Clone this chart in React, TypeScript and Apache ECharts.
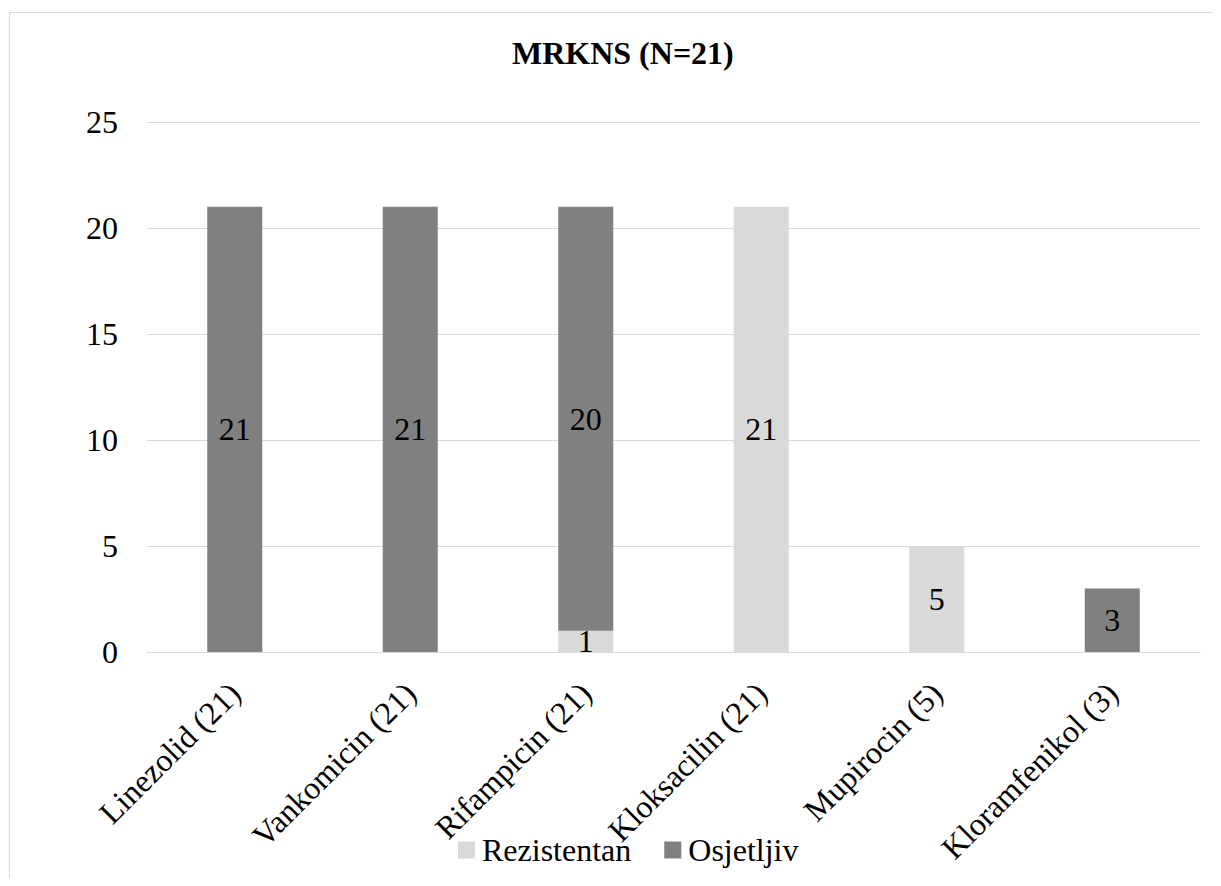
import React, { useEffect, useRef } from "react";
import * as echarts from "echarts";

const categories = [
  "Linezolid (21)",
  "Vankomicin (21)",
  "Rifampicin (21)",
  "Kloksacilin (21)",
  "Mupirocin (5)",
  "Kloramfenikol (3)",
];
const rezistentan = [0, 0, 1, 21, 5, 0];
const osjetljiv = [21, 21, 20, 0, 0, 3];
const yTicks = { min: 0, max: 25, interval: 5 };

const FONT = "Liberation Serif";

export default function App() {
  const ref = useRef<HTMLDivElement>(null);
  useEffect(() => {
    if (!ref.current) return;
    const chart = echarts.init(ref.current, null, { renderer: "svg" });
    const label = {
      show: true,
      position: "inside",
      color: "#000",
      fontSize: 32,
      fontFamily: FONT,
      formatter: (p: any) => (p.value ? String(p.value) : ""),
    };
    chart.setOption({
      animation: false,
      textStyle: { fontFamily: FONT },
      title: {
        text: "MRKNS (N=21)",
        left: 499,
        top: 24,
        textStyle: { fontFamily: FONT, fontSize: 32, fontWeight: "bold", color: "#000" },
      },
      graphic: [
        {
          type: "rect",
          shape: { x: 1.5, y: 4.5, width: 1400, height: 1200 },
          style: { fill: "none", stroke: "#d9d9d9", lineWidth: 1 },
          silent: true,
        },
      ],
      legend: {
        top: 821,
        left: 445,
        itemWidth: 17,
        itemHeight: 17,
        itemGap: 33,
        icon: "rect",
        textStyle: { fontFamily: FONT, fontSize: 32, color: "#000", padding: [0, 0, 0, 2] },
        data: ["Rezistentan", "Osjetljiv"],
      },
      grid: { left: 139, right: 21, top: 114, bottom: 226, containLabel: false },
      xAxis: {
        type: "category",
        data: categories,
        axisLine: { lineStyle: { color: "#d9d9d9", width: 1 } },
        axisTick: { show: false },
        axisLabel: {
          interval: 0,
          rotate: 45,
          margin: 36,
          fontSize: 32,
          fontFamily: FONT,
          color: "#000",
        },
      },
      yAxis: {
        type: "value",
        min: yTicks.min,
        max: yTicks.max,
        interval: yTicks.interval,
        axisLine: { show: false },
        axisTick: { show: false },
        splitLine: { lineStyle: { color: "#d9d9d9", width: 1 } },
        axisLabel: { fontSize: 32, fontFamily: FONT, color: "#000", margin: 29 },
      },
      series: [
        {
          name: "Rezistentan",
          type: "bar",
          stack: "total",
          barWidth: 55,
          data: rezistentan,
          itemStyle: { color: "#d9d9d9" },
          label,
        },
        {
          name: "Osjetljiv",
          type: "bar",
          stack: "total",
          barWidth: 55,
          data: osjetljiv,
          itemStyle: { color: "#808080" },
          label,
        },
      ],
    });
    return () => chart.dispose();
  }, []);
  return <div ref={ref} style={{ width: 1213, height: 870 }} />;
}
